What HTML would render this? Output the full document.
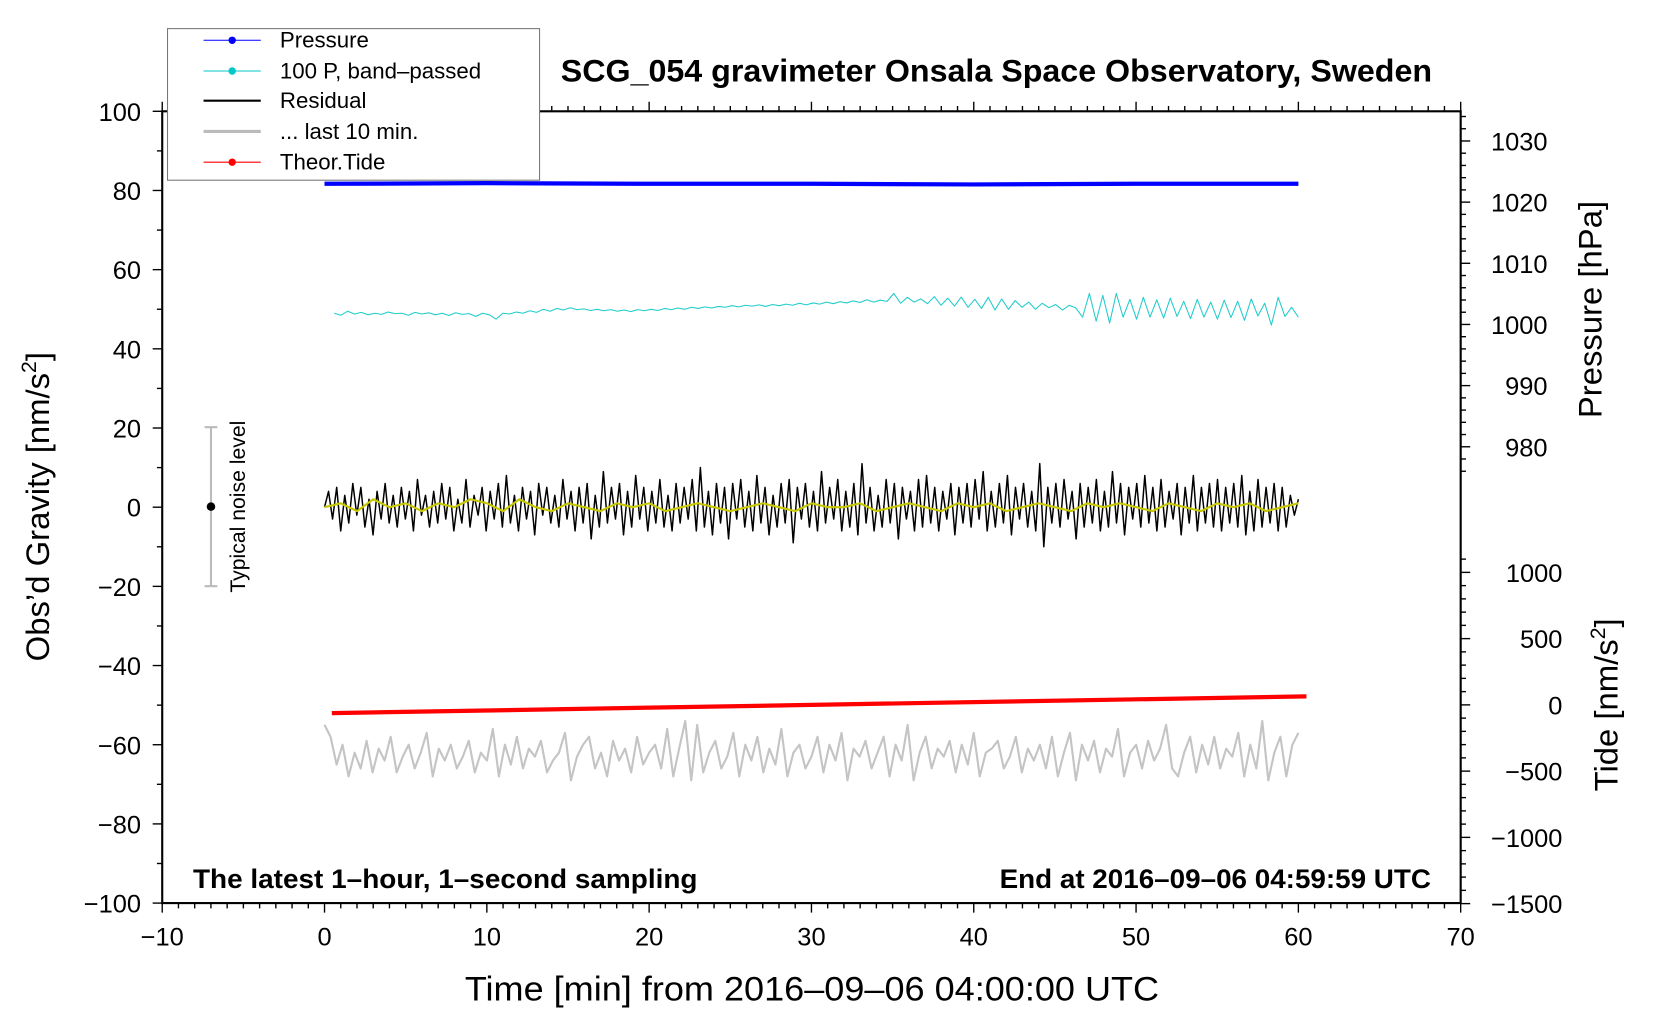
<!DOCTYPE html>
<html><head><meta charset="utf-8"><style>
html,body{margin:0;padding:0;background:#fff;}
svg{display:block;font-family:"Liberation Sans",sans-serif;}
</style></head><body>
<svg id="chart" width="1660" height="1020" viewBox="0 0 1566 962.3" xmlns="http://www.w3.org/2000/svg">
<g id="axes"></g>
<g id="series"></g>
<rect x="153" y="105" width="1225" height="747" fill="none" stroke="#000" stroke-width="2"/>
<text x="940" y="77" text-anchor="middle" font-size="29.5" font-weight="bold" textLength="822" lengthAdjust="spacingAndGlyphs">SCG_054 gravimeter Onsala Space Observatory, Sweden</text>
<text x="182" y="838" font-size="25" font-weight="bold" textLength="476" lengthAdjust="spacingAndGlyphs">The latest 1–hour, 1–second sampling</text>
<text x="943" y="838" font-size="25" font-weight="bold" textLength="407" lengthAdjust="spacingAndGlyphs">End at 2016–09–06 04:59:59 UTC</text>
<text x="766" y="944" text-anchor="middle" font-size="32" textLength="655" lengthAdjust="spacingAndGlyphs">Time [min] from 2016–09–06 04:00:00 UTC</text>
<text transform="translate(46,478) rotate(-90)" text-anchor="middle" font-size="31">Obs’d Gravity [nm/s<tspan dy="-12" font-size="20">2</tspan><tspan dy="12">]</tspan></text>
<text transform="translate(1511,292) rotate(-90)" text-anchor="middle" font-size="31">Pressure [hPa]</text>
<text transform="translate(1526,665) rotate(-90)" text-anchor="middle" font-size="31">Tide [nm/s<tspan dy="-12" font-size="20">2</tspan><tspan dy="12">]</tspan></text>
<g>
<line x1="199" y1="403" x2="199" y2="553" stroke="#bbb" stroke-width="2"/>
<line x1="193" y1="403" x2="205" y2="403" stroke="#bbb" stroke-width="2"/>
<line x1="193" y1="553" x2="205" y2="553" stroke="#bbb" stroke-width="2"/>
<circle cx="199" cy="478" r="4" fill="#000"/>
<text transform="translate(231,478) rotate(-90)" text-anchor="middle" font-size="20">Typical noise level</text>
</g>
<g>
<rect x="158" y="27" width="351" height="143" fill="#fff" stroke="#777" stroke-width="1"/>
<g><line x1="192" y1="38" x2="246" y2="38" stroke="#00f" stroke-width="1"/><circle cx="219" cy="38" r="3.5" fill="#00f"/><text x="264" y="45" font-size="21">Pressure</text></g>
<g><line x1="192" y1="67" x2="246" y2="67" stroke="#00c8c8" stroke-width="1"/><circle cx="219" cy="67" r="3.5" fill="#00c8c8"/><text x="264" y="74" font-size="21">100 P, band–passed</text></g>
<g><line x1="192" y1="95" x2="246" y2="95" stroke="#000" stroke-width="2"/><text x="264" y="102" font-size="21">Residual</text></g>
<g><line x1="192" y1="124" x2="246" y2="124" stroke="#bbb" stroke-width="3"/><text x="264" y="131" font-size="21">... last 10 min.</text></g>
<g><line x1="192" y1="153" x2="246" y2="153" stroke="#f00" stroke-width="1"/><circle cx="219" cy="153" r="3.5" fill="#f00"/><text x="264" y="160" font-size="21">Theor.Tide</text></g>
</g>
</svg>
<script>
const xTicks = [-10,0,10,20,30,40,50,60,70];
const yTicks = [100,80,60,40,20,0,-20,-40,-60,-80,-100];
const pTicks = [1030,1020,1010,1000,990,980];
const tideTicks = [1000,500,0,-500,-1000,-1500];
const pressureV = [1023.0,1023.1,1023.0,1023.0,1022.9,1023.0,1023.0];
const tideT = [0.45,60.5];
const tideV = [-62,64];
const residualV = [0,4,-3,5,-6,3,-4,6,-2,5,-5,2,-7,4,-3,6,-4,3,-5,5,
-3,4,-6,7,-2,3,-5,4,-4,6,-3,5,-6,2,-4,7,-5,3,-2,5,
-6,4,-3,6,-5,8,-4,3,-6,5,-3,4,-7,6,-2,5,-4,3,-5,7,
-3,4,-6,5,-4,6,-8,3,-5,9,-4,5,-3,6,-7,4,-5,8,-3,5,
-6,4,-4,7,-5,3,-6,6,-4,5,-3,7,-6,10,-5,4,-7,6,-4,5,
-8,6,-3,7,-5,4,-6,8,-4,5,-7,3,-5,6,-4,7,-9,5,-3,6,
-5,4,-6,9,-4,5,-3,7,-6,4,-5,6,-7,11,-4,5,-6,3,-5,7,
-4,6,-8,5,-3,4,-6,7,-5,8,-4,5,-6,4,-3,6,-7,5,-4,6,
-5,7,-3,9,-6,4,-5,6,-4,8,-7,5,-3,6,-5,4,-6,11,-10,5,
-4,6,-5,7,-3,4,-8,6,-5,5,-4,7,-6,4,-5,9,-4,6,-7,5,
-3,6,-5,8,-4,5,-6,7,-5,4,-3,6,-7,5,-4,8,-6,5,-4,6,
-5,7,-6,5,-4,6,-5,8,-7,4,-6,7,-5,5,-4,6,-6,5,-5,3,-2,2];
const smoothV = [0,1,-1,2,0,1,-1,1,0,2,1,-1,2,0,-1,1,0,-1,1,0,1,-1,0,1,0,-1,0,1,0,-1,1,0,0,1,-1,0,1,0,-1,1,0,1,-1,0,1,0,-1,1,0,1,0,-1,1,0,-1,1,0,1,-1,0,1];
const bandV = [49,48.5,49.5,48.8,49.2,48.6,49,48.7,49.3,48.9,49,48.5,49.2,48.8,49.1,48.6,49,48.4,49.1,48.7,
48.9,48.2,49,48.6,47.5,49,48.8,49.3,49,49.6,49.2,50,49.5,50.2,49.8,50.4,49.9,50.1,49.7,50,
49.6,49.9,49.5,49.8,49.4,49.9,49.6,50,49.7,50.2,49.9,50.3,50,50.5,50.2,50.6,50.3,50.7,50.5,50.9,
50.6,51,50.8,51.1,50.7,51.2,50.9,51.3,51,51.5,51.1,51.6,51.3,51.8,51.4,51.9,51.6,52.1,51.7,52.4,
51.8,52.3,52,54,51.5,53,51.8,52.6,51.4,53.2,51,52.8,50.8,53.1,50.5,52.5,50.2,53,49.8,52.6,
50,52.2,50.5,51.8,50,51.5,50.4,51.2,49.8,51,50.3,48,54,47,53.5,46.5,54,48,52.5,47.5,
53,48,52.4,47.8,52.8,48.2,52,47.6,52.5,48,51.8,47.5,52.3,47.9,52,47.2,52.6,48.3,51.5,46,
53,48.2,50.5,48];
const lastV = [-55,-58,-65,-60,-68,-62,-66,-59,-67,-61,-64,-58,-67,-63,-60,-66,-62,-57,-68,-61,
-64,-60,-66,-63,-59,-67,-62,-64,-56,-68,-60,-65,-58,-66,-61,-63,-59,-67,-64,-62,
-57,-69,-63,-60,-58,-66,-62,-68,-59,-64,-61,-67,-58,-65,-62,-60,-66,-56,-68,-61,
-54,-69,-55,-67,-62,-59,-66,-63,-57,-68,-60,-64,-58,-67,-61,-65,-56,-68,-62,-60,
-66,-63,-58,-67,-60,-64,-57,-69,-61,-63,-59,-66,-62,-58,-68,-60,-64,-55,-69,-62,
-58,-66,-61,-63,-59,-67,-60,-65,-57,-68,-62,-61,-59,-66,-63,-58,-67,-61,-64,-60,
-66,-58,-68,-62,-57,-69,-60,-64,-59,-67,-61,-63,-56,-68,-62,-60,-66,-59,-64,-61,
-55,-66,-68,-62,-58,-67,-60,-65,-58,-66,-61,-63,-57,-68,-60,-66,-54,-69,-62,-58,
-68,-60,-57];

const NS='http://www.w3.org/2000/svg';
const X0=153,X1=1378,Y0=105,Y1=852;
function xs(t){return X0+(t+10)/80*(X1-X0);}
function ys(v){return Y1-(v+100)/200*(Y1-Y0);}
function yp(p){return 133+(1030-p)*5.77;}
function yt(v){return 665-v*0.125;}
function mk(tag,attrs,parent){const e=document.createElementNS(NS,tag);for(const k in attrs)e.setAttribute(k,attrs[k]);parent.appendChild(e);return e;}
const axes=document.getElementById('axes');
const series=document.getElementById('series');
function fmt(v){return String(v).replace('-','−');}
for(let t=-10;t<=70;t++){
  const major=t%10===0;const x=xs(t);const len=major?9:5;
  const b=mk('line',{x1:x,y1:Y1,x2:x,y2:Y1+len,stroke:'#000','stroke-width':1.3},axes);
  
  
  const tp=mk('line',{x1:x,y1:Y0,x2:x,y2:Y0-len,stroke:'#000','stroke-width':1.3},axes);
  
  
}
xTicks.forEach(t=>{const e=mk('text',{x:xs(t),y:Y1+40,'text-anchor':'middle','font-size':24},axes);e.textContent=fmt(t);
  
  });
for(let v=-100;v<=100;v+=10){const y=ys(v);const len=v%20===0?9:5;
  const e=mk('line',{x1:X0,y1:y,x2:X0-len,y2:y,stroke:'#000','stroke-width':1.3},axes);
  
  }
yTicks.forEach(v=>{const e=mk('text',{x:X0-20,y:ys(v)+9,'text-anchor':'end','font-size':24},axes);e.textContent=fmt(v);
  
  });
for(let p=976;p<=1040;p+=2){const y=yp(p);if(y<Y0)continue;const len=p%10===0?9:5;
  const e=mk('line',{x1:X1,y1:y,x2:X1+len,y2:y,stroke:'#000','stroke-width':1.3},axes);
  
  }
pTicks.forEach(p=>{const e=mk('text',{x:X1+82,y:yp(p)+9,'text-anchor':'end','font-size':24},axes);e.textContent=fmt(p);
  
  });
for(let v=-1500;v<=1100;v+=100){const y=yt(v);const len=v%500===0?9:5;
  const e=mk('line',{x1:X1,y1:y,x2:X1+len,y2:y,stroke:'#000','stroke-width':1.3},axes);
  
  }
tideTicks.forEach(v=>{const e=mk('text',{x:X1+96,y:yt(v)+9,'text-anchor':'end','font-size':24},axes);e.textContent=fmt(v);
  
  });

function pathFrom(vals,t0,t1,yf){const n=vals.length;let d='';
  vals.forEach((v,i)=>{const t=t0+(t1-t0)*i/(n-1);d+=(i?'L':'M')+xs(t).toFixed(1)+','+yf(v).toFixed(1);});return d;}
function addLine(d,color,w,name){const e=mk('path',{d:d,fill:'none',stroke:color,'stroke-width':w,'stroke-linejoin':'round'},series);
  
  }
addLine(pathFrom(pressureV,0,60,yp),'#0000ff',4,'pressure-line');
addLine(pathFrom(bandV,0.6,60,ys),'#22cccc',1,'band-passed-pressure-line');
addLine(pathFrom(residualV,0,60,ys),'#000',1.4,'residual-line');
addLine(pathFrom(smoothV,0,60,ys),'#c8c800',2,'smoothed-residual-line');
addLine(pathFrom(tideV,tideT[0],tideT[1],yt),'#ff0000',4,'theoretical-tide-line');
addLine(pathFrom(lastV,0,60,ys),'#c4c4c4',2,'last-10-min-line');
</script>
</body></html>
